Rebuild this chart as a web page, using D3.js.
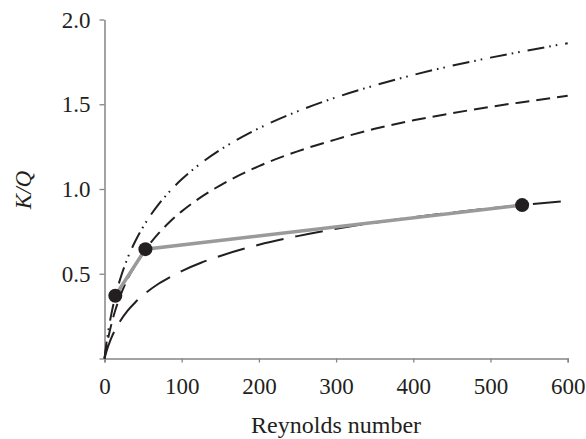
<!DOCTYPE html>
<html>
<head>
<meta charset="utf-8">
<script src="https://cdn.jsdelivr.net/npm/d3@7"></script>
<style>
  html, body { margin: 0; padding: 0; background: #fff; }
  svg { display: block; }
  text { font-family: "Liberation Serif", "Times New Roman", serif; fill: #231f20; }
</style>
</head>
<body>
<svg id="chart" width="586" height="439"></svg>
<script>
// ---- data ----
const xTicks = [0, 100, 200, 300, 400, 500, 600];
const yTicks = [0.5, 1.0, 1.5, 2.0];
const yTickLabels = ["0.5", "1.0", "1.5", "2.0"];

// Reynolds numbers at which the three curves were read
const curveRe = [0, 2, 5, 10, 15, 20, 30, 40, 55, 70, 85, 100, 125, 150, 200, 250, 300, 350, 400, 450, 500, 550, 600];

// dash-dot-dot curve (top)
const curveA_kq = [0, 0.073, 0.165, 0.287, 0.384, 0.464, 0.593, 0.693, 0.813, 0.909, 0.989, 1.057, 1.152, 1.231, 1.358, 1.458, 1.541, 1.611, 1.673, 1.727, 1.775, 1.819, 1.860];

// dashed curve (middle)
const curveB_kq = [0, 0.055, 0.125, 0.221, 0.299, 0.364, 0.470, 0.553, 0.654, 0.738, 0.808, 0.868, 0.952, 1.022, 1.135, 1.222, 1.293, 1.355, 1.405, 1.447, 1.485, 1.518, 1.550];

// long-dash curve (bottom)
const curveC_kq = [0, 0.033, 0.075, 0.133, 0.179, 0.218, 0.282, 0.332, 0.392, 0.441, 0.481, 0.516, 0.565, 0.605, 0.671, 0.722, 0.765, 0.801, 0.833, 0.861, 0.886, 0.909, 0.930];

// measured points (gray line with dots)
const measured_re = [14, 53, 541];
const measured_kq = [0.37, 0.645, 0.905];

// ---- layout ----
const svg = d3.select("#chart");
const x = d3.scaleLinear().domain([0, 600]).range([104.5, 567.7]);
const y = d3.scaleLinear().domain([0, 2]).range([358.5, 19.5]);
const axisColor = "#858585";
const ink = "#231f20";
const serif = "'Liberation Serif', 'Times New Roman', serif";

// axes
const xAxis = svg.append("g").attr("transform", `translate(0,${y(0)})`)
  .call(d3.axisBottom(x).tickValues(xTicks).tickSize(4).tickFormat(d3.format("d")));
xAxis.select(".domain").attr("stroke", axisColor).attr("stroke-width", 1.5);
xAxis.selectAll(".tick line").attr("stroke", axisColor).attr("stroke-width", 1.3);
xAxis.selectAll(".tick text").attr("y", 35.5).attr("dy", 0)
  .style("font-size", "23px").style("font-family", serif).attr("fill", ink);

const yAxis = svg.append("g").attr("transform", `translate(${x(0)},0)`)
  .call(d3.axisLeft(y).tickValues([0].concat(yTicks)).tickSize(5).tickSizeOuter(0)
    .tickFormat((d) => { const i = yTicks.indexOf(d); return i >= 0 ? yTickLabels[i] : ""; }));
yAxis.select(".domain").attr("stroke", axisColor).attr("stroke-width", 1.5);
yAxis.selectAll(".tick line").attr("stroke", axisColor).attr("stroke-width", 1.3);
yAxis.selectAll(".tick text").attr("x", -14).attr("dy", "0.33em")
  .style("font-size", "23px").style("font-family", serif).attr("fill", ink);

// axis titles
svg.append("text")
  .attr("x", (x(0) + x(600)) / 2).attr("y", 433)
  .attr("text-anchor", "middle")
  .style("font-size", "24px").style("font-family", serif)
  .text("Reynolds number");

svg.append("text")
  .attr("transform", `translate(31,190) rotate(-90)`)
  .attr("text-anchor", "middle")
  .style("font-size", "23px").style("font-style", "italic").style("font-family", serif)
  .text("K/Q");

// curves
const line = d3.line().x(d => x(d[0])).y(d => y(d[1])).curve(d3.curveMonotoneX);
const zip = (a, b) => a.map((v, i) => [v, b[i]]);

const plot = svg.append("g");
plot.append("path").datum(zip(curveRe, curveA_kq))
  .attr("d", line).attr("fill", "none").attr("stroke", ink).attr("stroke-width", 2)
  .attr("stroke-dasharray", "17,5,1.6,5,1.6,8");
plot.append("path").datum(zip(curveRe, curveB_kq))
  .attr("d", line).attr("fill", "none").attr("stroke", ink).attr("stroke-width", 2)
  .attr("stroke-dasharray", "14,7");
plot.append("path").datum(zip(curveRe, curveC_kq))
  .attr("d", line).attr("fill", "none").attr("stroke", ink).attr("stroke-width", 2)
  .attr("stroke-dasharray", "28,12");

// measured
const meas = zip(measured_re, measured_kq);
plot.append("path").datum(meas)
  .attr("d", d3.line().x(d => x(d[0])).y(d => y(d[1])))
  .attr("fill", "none").attr("stroke", "#9a9a9a").attr("stroke-width", 3.5);
plot.selectAll("circle").data(meas).enter().append("circle")
  .attr("cx", d => x(d[0])).attr("cy", d => y(d[1])).attr("r", 7)
  .attr("fill", ink);
</script>
</body>
</html>
